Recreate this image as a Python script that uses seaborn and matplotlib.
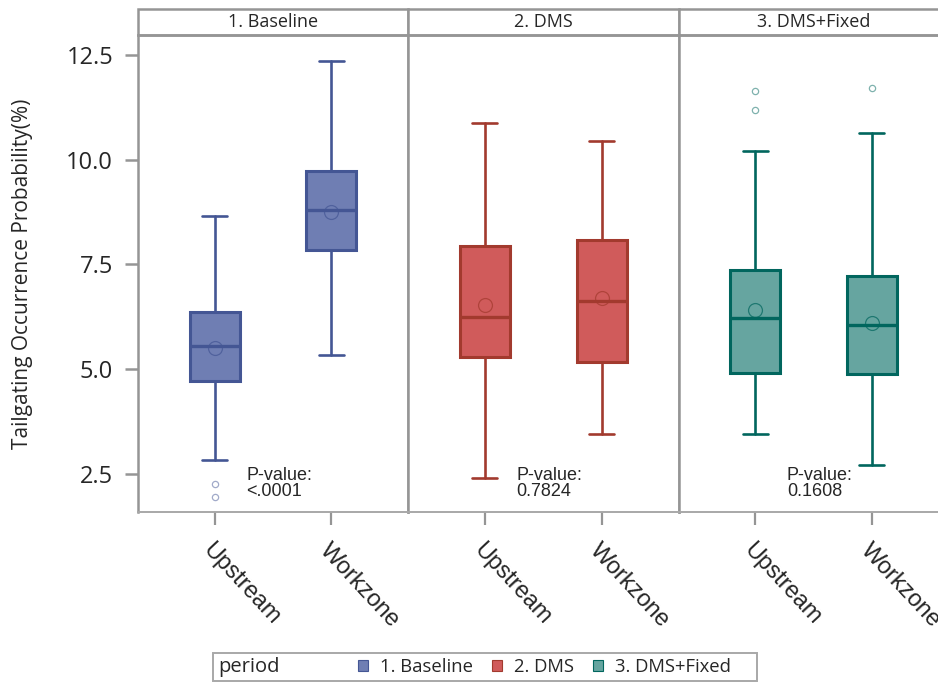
import matplotlib
matplotlib.use("Agg")
import matplotlib.pyplot as plt
import matplotlib.transforms as mtransforms
from matplotlib.patches import Rectangle, Patch
import pandas as pd
import seaborn as sns

# categories
periods = ["1. Baseline", "2. DMS", "3. DMS+Fixed"]
locations = ["Upstream", "Workzone"]

# box statistics
# order: Baseline Up/Work, DMS Up/Work, DMS+Fixed Up/Work
whisker_low = [2.83, 5.33, 2.39, 3.45, 3.45, 2.71]
q1 = [4.72, 7.85, 5.28, 5.18, 4.90, 4.88]
medians = [5.55, 8.80, 6.24, 6.63, 6.23, 6.05]
means = [5.50, 8.75, 6.53, 6.71, 6.42, 6.11]
q3 = [6.37, 9.73, 7.95, 8.08, 7.37, 7.23]
whisker_high = [8.66, 12.36, 10.88, 10.45, 10.21, 10.64]
outliers = [[2.26, 1.95], [], [], [], [11.64, 11.19], [11.72]]
p_values = ["<.0001", "0.7824", "0.1608"]

fill_colors = ["#6F7EB3", "#D05B5B", "#66A5A0"]
edge_colors = ["#445694", "#A23A2E", "#01665E"]
frame_gray = "#959595"

df = pd.DataFrame({
    "period": [p for p in periods for _ in locations],
    "location": locations * len(periods),
    "whislo": whisker_low, "q1": q1, "med": medians, "mean": means,
    "q3": q3, "whishi": whisker_high, "fliers": outliers,
})

sns.set_style("white")
plt.rcParams["font.family"] = ["Open Sans", "DejaVu Sans"]
arial = ["Liberation Sans", "DejaVu Sans"]


def draw_boxes(data, color=None, **kws):
    ax = plt.gca()
    i = periods.index(data["period"].iloc[0])
    ec, fc = edge_colors[i], fill_colors[i]
    stats = []
    for _, r in data.iterrows():
        stats.append(dict(whislo=r.whislo, q1=r.q1, med=r.med, mean=r["mean"],
                          q3=r.q3, whishi=r.whishi, fliers=r.fliers, label=r.location))
    ax.bxp(stats, positions=range(len(stats)), widths=0.43, capwidths=0.215,
           showmeans=True, meanline=False, patch_artist=True, manage_ticks=False,
           boxprops=dict(facecolor=fc, edgecolor=ec, linewidth=2.2),
           medianprops=dict(color=ec, linewidth=2.4),
           whiskerprops=dict(color=ec, linewidth=1.9),
           capprops=dict(color=ec, linewidth=1.9),
           meanprops=dict(marker="o", markerfacecolor="none", markeredgecolor=ec,
                          markeredgewidth=0.9, markersize=10, alpha=0.7),
           flierprops=dict(marker="o", markerfacecolor="none", markeredgecolor=ec,
                           markeredgewidth=0.9, markersize=4.5, alpha=0.5))


g = sns.FacetGrid(df, col="period", col_order=periods, sharey=True, despine=False)
g.map_dataframe(draw_boxes)

fig = g.figure
fig.set_size_inches(9.38, 6.82)
fig.set_dpi(100)
fig.subplots_adjust(left=138 / 938, right=949 / 938, top=1 - 35 / 682,
                    bottom=1 - 512 / 682, wspace=0)
g.set_titles("")
g.set_axis_labels("", "")

shift = mtransforms.ScaledTranslation(-16 / 100, 0, fig.dpi_scale_trans)
for i, ax in enumerate(g.axes.flat):
    ax.set_ylim(1.59, 12.98)
    ax.set_xlim(-0.657, 1.661)
    ax.set_yticks([2.5, 5.0, 7.5, 10.0, 12.5])
    ax.set_xticks(range(len(locations)))
    ax.set_xticklabels(locations, rotation=-47, ha="left", va="top",
                       rotation_mode="anchor", fontsize=17, family=arial)
    for lab in ax.get_xticklabels():
        lab.set_transform(lab.get_transform() + shift)
    ax.tick_params(axis="x", length=9.5, width=1.6, color=frame_gray, pad=10, bottom=True)
    if i == 0:
        ax.tick_params(axis="y", length=9.4, width=1.8, color=frame_gray, pad=8.5,
                       labelsize=17, left=True)
        ax.yaxis.set_major_formatter(matplotlib.ticker.FormatStrFormatter("%.1f"))
    else:
        ax.tick_params(axis="y", left=False, labelleft=False)
    for s in ax.spines.values():
        s.set_color(frame_gray)
        s.set_linewidth(1.8)
    ax.spines["bottom"].set_color("#a8a8a8")
    ax.spines["bottom"].set_linewidth(1.4)
    # header strip
    ax.add_patch(Rectangle((0, 1), 1, 26 / 477, transform=ax.transAxes,
                           facecolor="white", edgecolor=frame_gray, linewidth=1.8,
                           clip_on=False))
    ax.text(0.5, 1 + 13 / 477, periods[i], transform=ax.transAxes,
            ha="center", va="center", fontsize=13)
    ax.text(0.522, 0.025, "P-value:\n" + p_values[i], transform=ax.transAxes,
            ha="center", va="bottom", multialignment="left", fontsize=13,
            linespacing=0.95, family=arial)

ax0 = g.axes.flat[0]
ax0.set_ylabel("Tailgating Occurrence Probability(%)", fontsize=15)
ax0.yaxis.set_label_coords(-0.39, 0.5)

# legend box at the bottom
fig.patches.append(Rectangle((213 / 938, 1 / 682), (757 - 213) / 938, 28 / 682,
                             transform=fig.transFigure, fill=False,
                             edgecolor="#a8a8a8", linewidth=1.4))
fig.text(218 / 938, 15 / 682, "period", ha="left", va="center", fontsize=14.5)
handles = [Patch(facecolor=fill_colors[k], edgecolor=edge_colors[k], linewidth=0.8)
           for k in range(len(periods))]
fig.legend(handles, periods, ncol=3, loc="center left",
           bbox_to_anchor=(358 / 938, 15 / 682), frameon=False, fontsize=13.3,
           handlelength=0.55, handleheight=0.55, handletextpad=0.62,
           columnspacing=1.05, borderpad=0, borderaxespad=0)

fig.savefig("out.png", dpi=100)
